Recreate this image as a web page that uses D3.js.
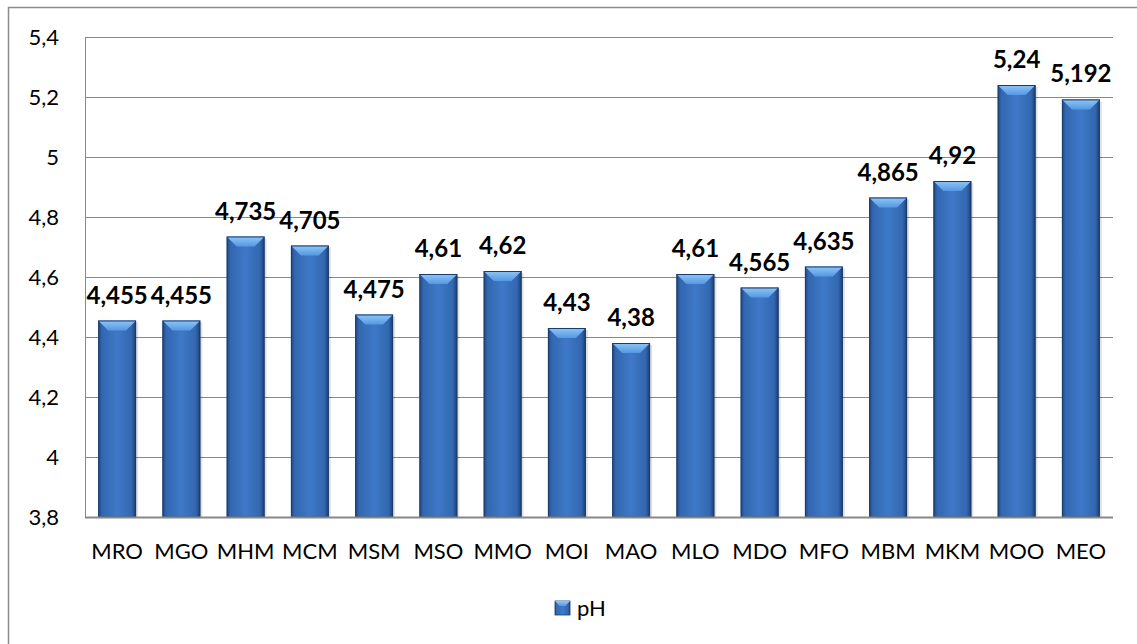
<!DOCTYPE html>
<html>
<head>
<meta charset="utf-8">
<script src="https://cdn.jsdelivr.net/npm/d3@7"></script>
<style>
  html, body { margin: 0; padding: 0; background: #fff; overflow: hidden; }
  svg { display: block; }
  text { font-family: Lato, "Open Sans", "DejaVu Sans", sans-serif; fill: #000; }
</style>
</head>
<body>
<svg id="chart" width="1137" height="644"></svg>
<script>
const categories = ["MRO","MGO","MHM","MCM","MSM","MSO","MMO","MOI","MAO","MLO","MDO","MFO","MBM","MKM","MOO","MEO"];
const phValues = [4.455,4.455,4.735,4.705,4.475,4.61,4.62,4.43,4.38,4.61,4.565,4.635,4.865,4.92,5.24,5.192];
const valueLabels = ["4,455","4,455","4,735","4,705","4,475","4,61","4,62","4,43","4,38","4,61","4,565","4,635","4,865","4,92","5,24","5,192"];
const yTicks = [3.8,4.0,4.2,4.4,4.6,4.8,5.0,5.2,5.4];
const seriesName = "pH";

const W = 1137, H = 644;
const plot = { left: 85, right: 1113, top: 37, bottom: 517 };
const svg = d3.select("#chart");

// defs: gradients
const defs = svg.append("defs");
const gBody = defs.append("linearGradient").attr("id","body").attr("x1","0").attr("x2","1").attr("y1","0").attr("y2","0");
[["0%","#1f477f"],["10%","#3367b0"],["50%","#3e79c8"],["88%","#3367b0"],["100%","#1b3e70"]]
  .forEach(([o,c]) => gBody.append("stop").attr("offset",o).attr("stop-color",c));
const gTop = defs.append("linearGradient").attr("id","topb").attr("x1","0").attr("x2","0").attr("y1","0").attr("y2","1");
[["0%","#8fc6f8"],["100%","#5598e2"]].forEach(([o,c]) => gTop.append("stop").attr("offset",o).attr("stop-color",c));

// outer chart border (cropped at right/bottom)
svg.append("rect").attr("x",8.5).attr("y",7.5).attr("width",W+20).attr("height",H+20)
  .attr("fill","#fff").attr("stroke","#8c8c8c").attr("stroke-width",1.5);

const x = d3.scaleBand().domain(categories).range([plot.left, plot.right]).paddingInner(0.41).paddingOuter(0.205);
const y = d3.scaleLinear().domain([3.8, 5.4]).range([plot.bottom, plot.top]);

// gridlines
svg.append("g").selectAll("line").data(yTicks).join("line")
  .attr("x1", plot.left).attr("x2", plot.right)
  .attr("y1", d => Math.round(y(d)) + 0.5).attr("y2", d => Math.round(y(d)) + 0.5)
  .attr("stroke", "#888").attr("stroke-width", 1);

// y axis
const yAxis = d3.axisLeft(y).tickValues(yTicks).tickSize(0).tickPadding(26)
  .tickFormat(d => d3.format(".1~f")(d).replace(".", ","));
const ya = svg.append("g").attr("transform", `translate(${plot.left},0)`).call(yAxis);
ya.select(".domain").attr("stroke","#888");
ya.selectAll("text").style("font-size","22px").attr("fill","#000").attr("dy","0.36em");

// bars
const bars = svg.append("g");
const bev = 10;
categories.forEach((c, i) => {
  const v = phValues[i];
  const x0 = x(c), bw = x.bandwidth(), x1 = x0 + bw;
  const top = y(v), bot = y(3.8);
  const g = bars.append("g");
  g.append("rect").attr("x", x0 + 2).attr("y", top + 2).attr("width", bw).attr("height", bot - top - 2)
    .attr("fill", "rgba(0,0,0,0.12)");
  g.append("rect").attr("x", x0).attr("y", top).attr("width", bw).attr("height", bot - top)
    .attr("fill", "url(#body)");
  g.append("polygon")
    .attr("points", [[x0, top],[x1, top],[x1 - bev, top + bev],[x0 + bev, top + bev]].map(p => p.join(",")).join(" "))
    .attr("fill", "url(#topb)");
  g.append("rect").attr("x", x0 + 0.5).attr("y", top + 0.5).attr("width", bw - 1).attr("height", bot - top - 0.5)
    .attr("fill", "none").attr("stroke", "#1a3c6c").attr("stroke-width", 1);
});

// bottom axis line
svg.append("line").attr("x1", plot.left).attr("x2", plot.right)
  .attr("y1", plot.bottom + 0.5).attr("y2", plot.bottom + 0.5).attr("stroke", "#888").attr("stroke-width", 2);

// x axis labels
const xAxis = d3.axisBottom(x).tickSize(0).tickPadding(26);
const xa = svg.append("g").attr("transform", `translate(0,${plot.bottom})`).call(xAxis);
xa.select(".domain").remove();
xa.selectAll("text").style("font-size","22px").attr("fill","#000");

// value labels
svg.append("g").selectAll("text").data(categories).join("text")
  .attr("x", d => x(d) + x.bandwidth() / 2)
  .attr("y", (d, i) => y(phValues[i]) - 17)
  .attr("text-anchor", "middle")
  .style("font-size", "24px").style("font-weight", "bold")
  .text((d, i) => valueLabels[i]);

// legend
const lg = svg.append("g").attr("transform", "translate(555,601)");
lg.append("rect").attr("width", 15).attr("height", 14).attr("fill", "url(#body)").attr("stroke", "#1a3c6c").attr("stroke-width", 0.8);
lg.append("polygon").attr("points", "0,0 15,0 10.5,5 4.5,5").attr("fill", "url(#topb)");
lg.append("text").attr("x", 22).attr("y", 7).attr("dy", "0.36em").style("font-size", "22px").text(seriesName);
</script>
</body>
</html>
